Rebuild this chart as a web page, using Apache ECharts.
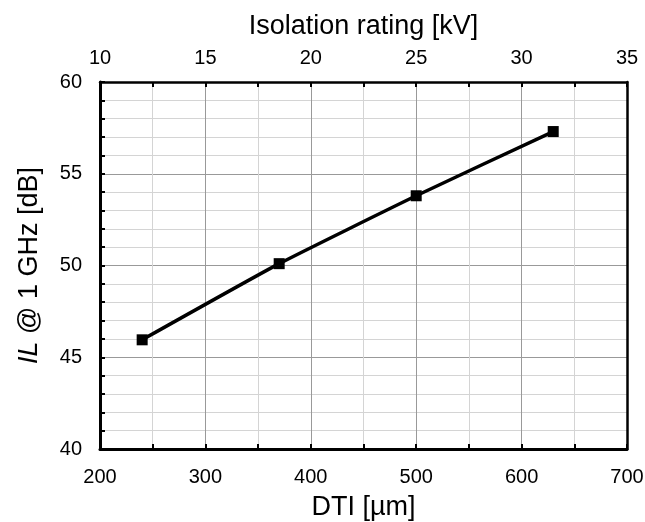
<!DOCTYPE html>
<html><head><meta charset="utf-8">
<script src="https://cdn.jsdelivr.net/npm/echarts@6/dist/echarts.min.js"></script>
<style>html,body{margin:0;padding:0;background:#fff}#c{width:645px;height:522px}</style>
</head><body><div id="c"></div>
<script>
const dti = [240, 370, 500, 630];
const il = [45.95, 50.1, 53.8, 57.3];
const xName = 'DTI [µm]';
const topName = 'Isolation rating [kV]';

const chart = echarts.init(document.getElementById('c'), null, {renderer: 'canvas'});
const font = 'Liberation Sans, Arial, sans-serif';
const lab = {color: '#000', fontSize: 20, fontFamily: font};
const nm = {color: '#000', fontSize: 27, fontFamily: font};
chart.setOption({
  backgroundColor: '#fff',
  animation: false,
  grid: {left: 100, right: 18, top: 82, bottom: 73, outerBoundsMode: 'none', containLabel: false},
  xAxis: [{
    type: 'value', position: 'bottom', min: 200, max: 700, interval: 100,
    name: xName, nameLocation: 'middle', nameGap: 45,
    nameTextStyle: nm,
    axisLine: {show: true, lineStyle: {color: '#000', width: 3}},
    axisTick: {show: true, inside: true, length: 5, lineStyle: {color: '#000', width: 2}},
    minorTick: {show: true, splitNumber: 2, length: 5, lineStyle: {color: '#000', width: 2}},
    axisLabel: Object.assign({margin: 18}, lab),
    splitLine: {show: true, lineStyle: {color: '#999', width: 1}},
    minorSplitLine: {show: true, lineStyle: {color: '#d4d4d4', width: 1}}
  }, {
    type: 'value', position: 'top', min: 10, max: 35, interval: 5,
    name: topName, nameLocation: 'middle', nameGap: 42,
    nameTextStyle: nm,
    axisLine: {show: true, lineStyle: {color: '#000', width: 2.5}},
    axisTick: {show: true, inside: true, length: 5, lineStyle: {color: '#000', width: 2}},
    minorTick: {show: true, splitNumber: 2, length: 5, lineStyle: {color: '#000', width: 2}},
    axisLabel: Object.assign({margin: 14}, lab),
    splitLine: {show: false}
  }],
  yAxis: [{
    type: 'value', position: 'left', min: 40, max: 60, interval: 5,
    name: '{i|IL} @ 1 GHz [dB]', nameLocation: 'middle', nameGap: 57,
    nameTextStyle: Object.assign({
      rich: {i: {fontStyle: 'italic', fontSize: 27, fontFamily: font, color: '#000'}}}, nm),
    axisLine: {show: true, lineStyle: {color: '#000', width: 3}},
    axisTick: {show: true, inside: true, length: 5, lineStyle: {color: '#000', width: 2}},
    minorTick: {show: true, splitNumber: 5, length: 5, lineStyle: {color: '#000', width: 2}},
    axisLabel: Object.assign({margin: 18}, lab),
    splitLine: {show: true, lineStyle: {color: '#999', width: 1}},
    minorSplitLine: {show: true, lineStyle: {color: '#d4d4d4', width: 1}}
  }, {
    type: 'value', position: 'right', min: 40, max: 60, interval: 5,
    axisLine: {show: true, lineStyle: {color: '#000', width: 2.5}},
    axisTick: {show: false}, axisLabel: {show: false}, splitLine: {show: false}
  }],
  series: [{
    type: 'line', xAxisIndex: 0, yAxisIndex: 0,
    data: dti.map((x, i) => [x, il[i]]),
    smooth: 0.15,
    symbol: 'rect', symbolSize: 11,
    lineStyle: {color: '#000', width: 3.5},
    itemStyle: {color: '#000'}
  }]
});
</script></body></html>
